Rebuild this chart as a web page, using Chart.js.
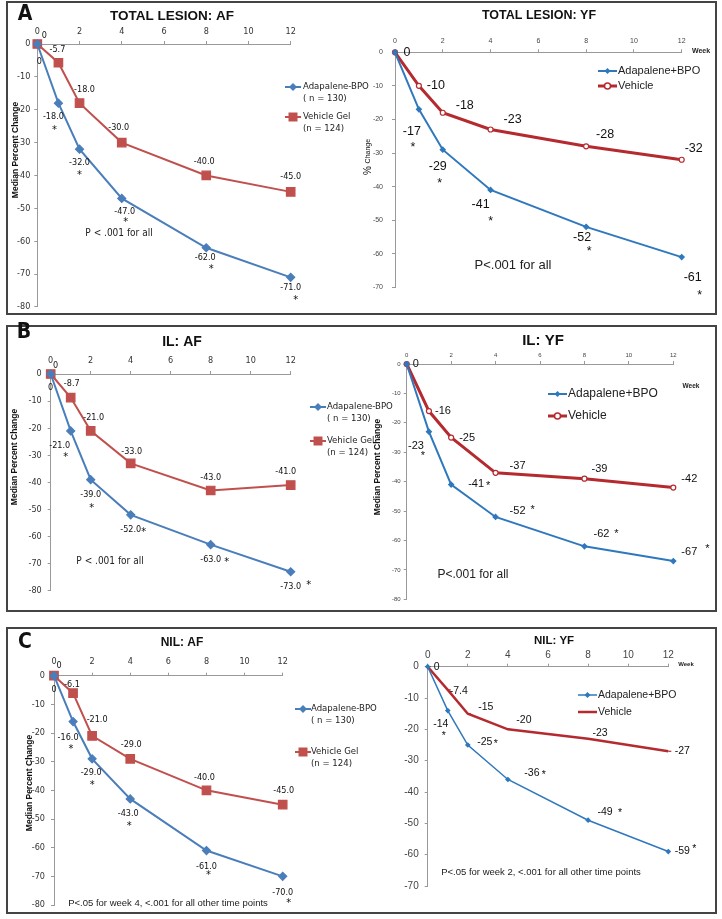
<!DOCTYPE html>
<html>
<head>
<meta charset="utf-8">
<script src="https://cdn.jsdelivr.net/npm/chart.js@4.4.1/dist/chart.umd.min.js"></script>
<style>
  body { margin: 0; background: #fff; width: 722px; height: 919px; position: relative; overflow: hidden; }
  .box { position: absolute; border: 2px solid #444; box-sizing: border-box; }
  canvas { position: absolute; left: 0; top: 0; }
</style>
</head>
<body>
<div class="box" style="left:6px;top:1px;width:711px;height:314px"></div>
<div class="box" style="left:6px;top:325px;width:711px;height:287px"></div>
<div class="box" style="left:6px;top:627px;width:711px;height:287px"></div>
<canvas id="totalAf" width="722" height="919"></canvas>
<canvas id="totalYf" width="722" height="919"></canvas>
<canvas id="ilAf" width="722" height="919"></canvas>
<canvas id="ilYf" width="722" height="919"></canvas>
<canvas id="nilAf" width="722" height="919"></canvas>
<canvas id="nilYf" width="722" height="919"></canvas>
<script>
// weeks on the x axis
const weeks = [0, 1, 2, 4, 8, 12];

// median percent change
const totalAfAdap = [0, -18, -32, -47, -62, -71];
const totalAfVeh  = [0, -5.7, -18, -30, -40, -45];
const totalYfAdap = [0, -17, -29, -41, -52, -61];
const totalYfVeh  = [0, -10, -18, -23, -28, -32];
const ilAfAdap    = [0, -21, -39, -52, -63, -73];
const ilAfVeh     = [0, -8.7, -21, -33, -43, -41];
const ilYfAdap    = [0, -23, -41, -52, -62, -67];
const ilYfVeh     = [0, -16, -25, -37, -39, -42];
const nilAfAdap   = [0, -16, -29, -43, -61, -70];
const nilAfVeh    = [0, -6.1, -21, -29, -40, -45];
const nilYfAdap   = [0, -14, -25, -36, -49, -59];
const nilYfVeh    = [0, -7.4, -15, -20, -23, -27];

const NARROW = "'Liberation Sans Narrow','DejaVu Sans Condensed',sans-serif";
const ARIAL = "'Liberation Sans',Arial,sans-serif";
const AF_BLUE = '#4a7ebb', AF_RED = '#c0504d';
const YF_BLUE = '#2f78bd', YF_RED = '#b52a2f';

const afFmt = v => v === 0 ? '0' : v.toFixed(1);
const yfFmt = v => String(v);

// label / star offsets from each point, in px
const offTotalAfVeh = [[7,-8],[-1,-13],[5,-13],[-3,-15],[-2,-14],[0,-15]];
const offTotalAfAdap = [[2,18],[-5,14],[0,13],[3,13],[-1,10],[0,10]];
const starTotalAf = [null,[-4,24],[0,23],[4,21],[5,19],[5,20]];
const offTotalYfVeh = [[12,0],[17,0],[22,-7],[22,-10],[19,-12],[12,-11]];
const offTotalYfAdap = [null,[-7,22],[-5,17],[-10,15],[-4,11],[11,20]];
const starTotalYf = [null,[-6,35],[-3,31],[0,28],[3,22],[18,35]];
const offIlAfVeh = [[5,-8],[1,-14],[3,-13],[1,-12],[0,-13],[-5,-13]];
const offIlAfAdap = [[0,14],[-11,15],[0,15],[0,15],[0,15],[0,15]];
const starIlAf = [null,[-5,24],[1,26],[13,15],[16,15],[18,11]];
const offIlYfVeh = [[9,0],[14,0],[16,0],[22,-7],[15,-10],[16,-9]];
const offIlYfAdap = [null,[-13,14],[25,-1],[22,-6],[17,-12],[16,-9]];
const starIlYf = [null,[-6,22],[37,-1],[37,-10],[32,-15],[34,-15]];
const offNilAfVeh = [[5,-10],[-1,-9],[5,-16],[1,-14],[-2,-13],[1,-14]];
const offNilAfAdap = [[0,14],[-5,16],[-1,14],[-2,15],[0,16],[0,16]];
const starNilAf = [null,[-2,25],[0,24],[-1,24],[2,22],[6,24]];
const offNilYfVeh = [[9,0],[11,1],[18,-7],[16,-9],[12,-6],[14,0]];
const offNilYfAdap = [null,[-7,14],[17,-3],[24,-6],[17,-8],[14,0]];
const starNilYf = [null,[-4,23],[28,-4],[36,-7],[32,-10],[26,-5]];

function afAdap(values, offsets, stars) {
  return { values, offsets, stars, color: AF_BLUE, width: 2, pointStyle: 'rectRot', pointRadius: 4,
    pointFill: AF_BLUE, marker: 'diamond', mr: 4, fmt: afFmt, font: `9px ${NARROW}`, starSize: 11, starFamily: NARROW };
}
function afVeh(values, offsets) {
  return { values, offsets, color: AF_RED, width: 2, pointStyle: 'rect', pointRadius: 6,
    pointFill: AF_RED, marker: 'square', mr: 4.5, fmt: afFmt, font: `9px ${NARROW}` };
}
function yfAdap(values, offsets, stars, size, thin) {
  return { values, offsets, stars, color: YF_BLUE, width: thin ? 1.5 : 2, pointStyle: 'rectRot', pointRadius: thin ? 2 : 2.5,
    pointFill: YF_BLUE, marker: 'diamond', mr: 3, fmt: yfFmt, font: `${size}px ${ARIAL}`, starSize: size, starFamily: ARIAL };
}
function yfVeh(values, offsets, size, thin) {
  return { values, offsets, color: YF_RED, width: thin ? 2.5 : 3,
    pointStyle: thin ? 'dash' : 'circle', pointRadius: thin ? 3 : 2.5, pointFill: '#fff',
    marker: thin ? 'dash' : 'ring', mr: 3, fmt: yfFmt, font: `${size}px ${ARIAL}` };
}

function text(ctx, str, x, y, font, color, align) {
  ctx.font = font;
  ctx.fillStyle = color || '#111';
  ctx.textAlign = align || 'center';
  ctx.textBaseline = 'middle';
  ctx.fillText(str, x, y);
}

function drawMarker(ctx, type, x, y, r, color) {
  ctx.save();
  ctx.fillStyle = color; ctx.strokeStyle = color; ctx.lineWidth = 1.5;
  ctx.beginPath();
  if (type === 'diamond') {
    ctx.moveTo(x, y - r); ctx.lineTo(x + r, y); ctx.lineTo(x, y + r); ctx.lineTo(x - r, y);
    ctx.closePath(); ctx.fill();
  } else if (type === 'square') {
    ctx.rect(x - r, y - r, 2 * r, 2 * r); ctx.fill();
  } else if (type === 'ring') {
    ctx.arc(x, y, r, 0, Math.PI * 2); ctx.fillStyle = '#fff'; ctx.fill(); ctx.stroke();
  } else {
    ctx.moveTo(x - r, y); ctx.lineTo(x + r, y); ctx.stroke();
  }
  ctx.restore();
}

function drawExtras(chart, spec) {
  const ctx = chart.ctx;
  ctx.save();
  if (spec.letter) text(ctx, spec.letter.text, spec.letter.x, spec.letter.y, `bold 21px 'DejaVu Sans Condensed',${NARROW}`, '#111');
  text(ctx, spec.title.text, spec.title.x, spec.title.y, spec.title.font, '#111');
  if (spec.week) text(ctx, 'Week', spec.week.x, spec.week.y, spec.week.font, '#222');
  if (spec.note) text(ctx, spec.note.text, spec.note.x, spec.note.y, spec.note.font, '#222');

  if (spec.yTitle) {
    const yt = spec.yTitle;
    ctx.save();
    ctx.translate(yt.x, yt.y);
    ctx.rotate(-Math.PI / 2);
    let total = 0;
    yt.parts.forEach(p => { ctx.font = p[1]; total += ctx.measureText(p[0]).width; });
    let cx = -total / 2;
    yt.parts.forEach(p => {
      text(ctx, p[0], cx, 0, p[1], '#111', 'left');
      cx += ctx.measureText(p[0]).width;
    });
    ctx.restore();
  }

  const lg = spec.legend;
  lg.items.forEach(item => {
    const s = spec.series[item.s];
    ctx.strokeStyle = s.color; ctx.lineWidth = s.width;
    ctx.beginPath(); ctx.moveTo(lg.x1, item.y); ctx.lineTo(lg.x2, item.y); ctx.stroke();
    drawMarker(ctx, s.marker, (lg.x1 + lg.x2) / 2, item.y, s.mr, s.color);
    item.lines.forEach((ln, k) => text(ctx, ln, lg.tx, item.y + k * lg.gap, lg.font, '#222', 'left'));
  });

  spec.series.forEach((s, i) => {
    const meta = chart.getDatasetMeta(i);
    meta.data.forEach((pt, j) => {
      const o = s.offsets[j];
      if (o) text(ctx, s.fmt(s.values[j]), pt.x + o[0], pt.y + o[1], s.font, '#111');
      const st = s.stars && s.stars[j];
      if (st) text(ctx, '*', pt.x + st[0], pt.y + st[1] + s.starSize * 0.25, `${s.starSize}px ${s.starFamily}`, '#111');
    });
  });
  ctx.restore();
}

function makeChart(id, spec) {
  const a = spec.area;
  const axisColor = spec.axisColor || '#999';
  // fixed scale sizes so the plot area lands where it sits in the figure
  const yW = Math.min(40, a.l - 2);
  const xH = Math.min(24, a.t - 2);
  new Chart(document.getElementById(id), {
    type: 'line',
    data: {
      datasets: spec.series.map(s => ({
        data: weeks.map((w, i) => ({ x: w, y: s.values[i] })),
        borderColor: s.color,
        borderWidth: s.width,
        pointStyle: s.pointStyle,
        pointRadius: s.pointRadius,
        pointBackgroundColor: s.pointFill,
        pointBorderColor: s.color,
        pointBorderWidth: 1.2,
        tension: 0,
        fill: false,
        clip: false
      }))
    },
    options: {
      responsive: false,
      animation: false,
      devicePixelRatio: 1,
      layout: { autoPadding: false, padding: { left: a.l - yW, top: a.t - xH, right: 722 - a.r, bottom: 919 - a.b } },
      plugins: { legend: { display: false }, tooltip: { enabled: false } },
      scales: {
        x: {
          type: 'linear', position: 'top', min: 0, max: 12,
          ticks: { stepSize: 2, font: spec.tickFont, color: spec.tickColor, padding: spec.xPad, maxRotation: 0, autoSkip: false },
          grid: { drawOnChartArea: false, tickLength: 3, color: axisColor },
          border: { color: axisColor, width: 1 },
          afterFit: s => { s.height = xH; }
        },
        y: {
          type: 'linear', min: spec.yMin, max: 0,
          ticks: { stepSize: 10, font: spec.tickFont, color: spec.tickColor, padding: spec.yPad, autoSkip: false },
          grid: { drawOnChartArea: false, tickLength: 3, color: axisColor },
          border: { color: axisColor, width: 1 },
          afterFit: s => { s.width = yW; }
        }
      }
    },
    plugins: [{ id: 'extras', afterDraw: c => drawExtras(c, spec) }]
  });
}

const afLegend = (x1, tx, yA, yV) => ({
  x1, x2: x1 + 16, tx, font: `9.5px ${NARROW}`, gap: 12,
  items: [{ y: yA, s: 0, lines: ['Adapalene-BPO', '( n = 130)'] }, { y: yV, s: 1, lines: ['Vehicle Gel', '(n = 124)'] }]
});
const yfLegend = (x1, yA, yV, size) => ({
  x1, x2: x1 + 19, tx: x1 + 20, font: `${size}px ${ARIAL}`, gap: 0,
  items: [{ y: yA, s: 0, lines: ['Adapalene+BPO'] }, { y: yV, s: 1, lines: ['Vehicle'] }]
});

makeChart('totalAf', {
  area: { l: 37.3, t: 44, r: 290.7, b: 306.9 }, yMin: -80,
  tickFont: { family: NARROW, size: 9 }, tickColor: '#333', xPad: 4, yPad: 4,
  letter: { text: 'A', x: 25, y: 15 },
  title: { text: 'TOTAL LESION: AF', x: 172, y: 16, font: `bold 13.5px ${ARIAL}` },
  yTitle: { x: 16, y: 150, parts: [['Median Percent Change', `bold 8.5px ${ARIAL}`]] },
  note: { text: 'P < .001 for all', x: 119, y: 233, font: `10px ${NARROW}` },
  legend: afLegend(285, 303, 87, 117),
  series: [afAdap(totalAfAdap, offTotalAfAdap, starTotalAf), afVeh(totalAfVeh, offTotalAfVeh)]
});

makeChart('totalYf', {
  area: { l: 395, t: 52.3, r: 681.7, b: 287.3 }, yMin: -70,
  tickFont: { family: ARIAL, size: 7 }, tickColor: '#444', xPad: 4, yPad: 9,
  title: { text: 'TOTAL LESION: YF', x: 539, y: 16, font: `bold 12.5px ${ARIAL}` },
  week: { x: 701, y: 51, font: `bold 7px ${ARIAL}` },
  yTitle: { x: 368, y: 157, parts: [['% ', `10px ${ARIAL}`], ['Change', `7px ${ARIAL}`]] },
  note: { text: 'P<.001 for all', x: 513, y: 265, font: `13px ${ARIAL}` },
  legend: yfLegend(598, 71, 86, 11),
  series: [yfAdap(totalYfAdap, offTotalYfAdap, starTotalYf, 12.5), yfVeh(totalYfVeh, offTotalYfVeh, 12.5)]
});

makeChart('ilAf', {
  area: { l: 50.7, t: 374, r: 290.7, b: 590.7 }, yMin: -80,
  tickFont: { family: NARROW, size: 9 }, tickColor: '#333', xPad: 5, yPad: 6,
  letter: { text: 'B', x: 24, y: 333 },
  title: { text: 'IL: AF', x: 182, y: 342, font: `bold 14px ${ARIAL}` },
  yTitle: { x: 15, y: 457, parts: [['Median Percent Change', `bold 8.5px ${ARIAL}`]] },
  note: { text: 'P < .001 for all', x: 110, y: 561, font: `10px ${NARROW}` },
  legend: afLegend(310, 327, 407, 441),
  series: [afAdap(ilAfAdap, offIlAfAdap, starIlAf), afVeh(ilAfVeh, offIlAfVeh)]
});

makeChart('ilYf', {
  area: { l: 406.7, t: 364, r: 673.3, b: 599.3 }, yMin: -80,
  tickFont: { family: ARIAL, size: 6 }, tickColor: '#444', xPad: 2, yPad: 3,
  title: { text: 'IL: YF', x: 543, y: 341, font: `bold 15px ${ARIAL}` },
  week: { x: 691, y: 386, font: `bold 6.5px ${ARIAL}` },
  yTitle: { x: 378, y: 467, parts: [['Median Percent Change', `bold 8.5px ${ARIAL}`]] },
  note: { text: 'P<.001 for all', x: 473, y: 575, font: `12px ${ARIAL}` },
  legend: yfLegend(548, 394, 416, 12),
  series: [yfAdap(ilYfAdap, offIlYfAdap, starIlYf, 11), yfVeh(ilYfVeh, offIlYfVeh, 11)]
});

makeChart('nilAf', {
  area: { l: 54, t: 675.7, r: 282.7, b: 905 }, yMin: -80,
  tickFont: { family: NARROW, size: 9 }, tickColor: '#333', xPad: 6, yPad: 6,
  letter: { text: 'C', x: 25, y: 643 },
  title: { text: 'NIL: AF', x: 182, y: 643, font: `bold 12px ${ARIAL}` },
  yTitle: { x: 30, y: 783, parts: [['Median Percent Change', `bold 8.5px ${ARIAL}`]] },
  note: { text: 'P<.05 for week 4, <.001 for all other time points', x: 168, y: 903, font: `9.5px ${ARIAL}` },
  legend: afLegend(295, 311, 709, 752),
  series: [afAdap(nilAfAdap, offNilAfAdap, starNilAf), afVeh(nilAfVeh, offNilAfVeh)]
});

makeChart('nilYf', {
  area: { l: 427.7, t: 666.7, r: 668.3, b: 886 }, yMin: -70,
  tickFont: { family: ARIAL, size: 10 }, tickColor: '#444', xPad: 2, yPad: 6,
  title: { text: 'NIL: YF', x: 554, y: 641, font: `bold 11.5px ${ARIAL}` },
  week: { x: 686, y: 664, font: `bold 6px ${ARIAL}` },
  note: { text: 'P<.05 for week 2, <.001 for all other time points', x: 541, y: 872, font: `9.5px ${ARIAL}` },
  legend: yfLegend(578, 695, 712, 10.5),
  series: [yfAdap(nilYfAdap, offNilYfAdap, starNilYf, 10.5, true), yfVeh(nilYfVeh, offNilYfVeh, 10.5, true)]
});
</script>
</body>
</html>
